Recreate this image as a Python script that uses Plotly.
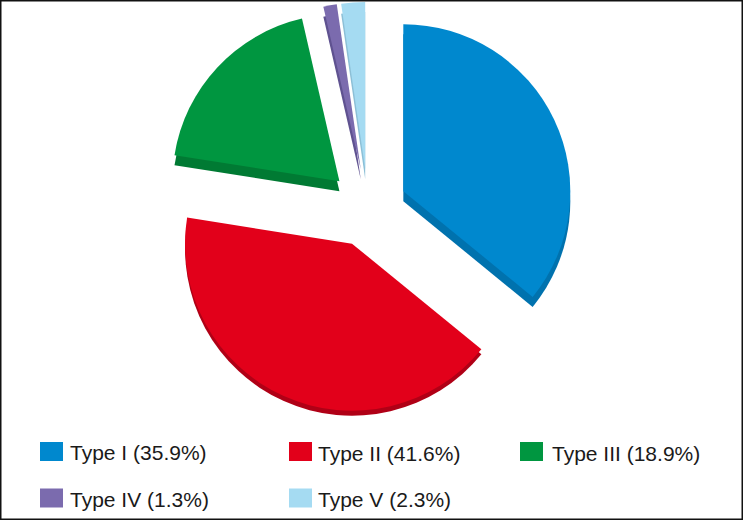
import plotly.graph_objects as go

categories = ["Type I", "Type II", "Type III", "Type IV", "Type V"]
values = [35.9, 41.6, 18.9, 1.3, 2.3]
colors = ["#0088CE", "#E2001A", "#009640", "#7B6BAE", "#A5DBF2"]
dark_colors = ["#0072AE", "rgba(0,0,0,0)", "#007A33", "#5F5290", "#8CBFD6"]
dark_red = ["rgba(0,0,0,0)", "#B00016", "rgba(0,0,0,0)", "rgba(0,0,0,0)", "rgba(0,0,0,0)"]
legend_x = [40, 289, 520, 40, 289]
legend_y = [451.5, 451.5, 451.5, 498, 498]
text_x = [70, 318, 552, 70, 318]
text_y = [452, 453, 453, 499, 499]

W, H = 743, 520
CX, CY, R, PULL = 368, 208, 167, 0.234
half = R * (1 + PULL)


def pie(colors_, dy):
    return go.Pie(
        values=values, labels=categories, sort=False, direction="clockwise",
        rotation=0, pull=PULL, marker=dict(colors=colors_, line=dict(width=0)),
        textinfo="none", hoverinfo="label+percent", showlegend=False,
        domain=dict(x=[(CX - half) / W, (CX + half) / W],
                    y=[1 - (CY + dy + half) / H, 1 - (CY + dy - half) / H]),
    )


fig = go.Figure([pie(dark_colors, 10), pie(dark_red, 5), pie(colors, 0)])

shapes = [dict(type="rect", xref="paper", yref="paper", x0=0, x1=1, y0=0, y1=1,
               line=dict(color="#111111", width=3), fillcolor="rgba(0,0,0,0)")]
annotations = []
for name, val, col, x, y, tx, ty in zip(categories, values, colors, legend_x, legend_y, text_x, text_y):
    shapes.append(dict(type="rect", xref="paper", yref="paper",
                       x0=x / W, x1=(x + 23) / W,
                       y0=1 - (y + 9.5) / H, y1=1 - (y - 9.5) / H,
                       fillcolor=col, line=dict(width=0)))
    annotations.append(dict(xref="paper", yref="paper", x=tx / W, y=1 - ty / H,
                            xanchor="left", yanchor="middle", showarrow=False,
                            xshift=-2, text=f"{name} ({val}%)",
                            font=dict(family="Liberation Sans", size=21, color="#1a1a1a")))

fig.update_layout(width=W, height=H, margin=dict(l=0, r=0, t=0, b=0),
                  paper_bgcolor="white", shapes=shapes, annotations=annotations)
fig.write_html("out.html", config=dict(displayModeBar=False),
               post_script="document.body.style.margin='0';document.body.style.overflow='hidden';")
